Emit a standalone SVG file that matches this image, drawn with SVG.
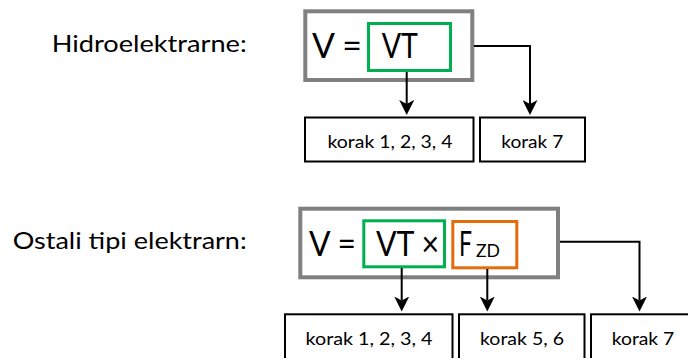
<svg xmlns="http://www.w3.org/2000/svg" width="688" height="358" viewBox="0 0 688 358">
<style>
  .lbl { font-family: Lato, "Open Sans", "Liberation Sans", sans-serif; font-size: 24px; fill: #000; }
  .eq { font-family: Lato, "Open Sans", "Liberation Sans", sans-serif; font-size: 34px; fill: #000; }
  .sub { font-family: Lato, "Open Sans", "Liberation Sans", sans-serif; font-size: 18px; fill: #000; }
  .bt { font-family: Lato, "Open Sans", "Liberation Sans", sans-serif; font-size: 18px; fill: #000; text-anchor: middle; }
  .outer { fill: #fff; stroke: #808080; stroke-width: 4; }
  .green { fill: none; stroke: #00B050; stroke-width: 3; }
  .orange { fill: none; stroke: #E46C0A; stroke-width: 3; }
  .box { fill: #fff; stroke: #000; stroke-width: 2; }
  .conn { fill: none; stroke: #000; stroke-width: 2; marker-end: url(#ah); }
</style>
<defs>
  <marker id="ah" viewBox="0 0 15 15" refX="4" refY="7.5" markerWidth="15" markerHeight="15" markerUnits="userSpaceOnUse" orient="auto">
    <path d="M0,0 L15,7.5 L0,15 L4,7.5 Z" fill="#000"/>
  </marker>
</defs>
<rect width="688" height="358" fill="#fff"/>

<g id="label-hidro">
  <text class="lbl" x="51.7" y="52.3" textLength="195" lengthAdjust="spacingAndGlyphs">Hidroelektrarne:</text>
</g>
<g id="label-ostali">
  <text class="lbl" x="12.7" y="249.3" textLength="234" lengthAdjust="spacingAndGlyphs">Ostali tipi elektrarn:</text>
</g>

<g id="formula-top">
  <rect class="outer" x="305.3" y="11.3" width="167" height="68.7"/>
  <rect class="green" x="368.5" y="23.5" width="82" height="47"/>
  <text class="eq" x="312" y="58" textLength="50" lengthAdjust="spacingAndGlyphs">V =</text>
  <text class="eq" x="381.7" y="58" textLength="36.3" lengthAdjust="spacingAndGlyphs">VT</text>
</g>

<g id="formula-bottom">
  <rect class="outer" x="300.3" y="208.7" width="257.7" height="68.6"/>
  <rect class="green" x="363.8" y="220.8" width="80.7" height="46"/>
  <rect class="orange" x="452.8" y="221.5" width="64" height="46.3"/>
  <text class="eq" x="309" y="256" textLength="47" lengthAdjust="spacingAndGlyphs">V =</text>
  <text class="eq" x="376" y="256" textLength="63" lengthAdjust="spacingAndGlyphs">VT ×</text>
  <text class="eq" x="459" y="256" textLength="13" lengthAdjust="spacingAndGlyphs">F</text>
  <text class="sub" x="476" y="257.3" textLength="24" lengthAdjust="spacingAndGlyphs">ZD</text>
</g>

<g id="top-korak-1-4">
  <rect class="box" x="305" y="117.5" width="168.5" height="44"/>
  <text class="bt" x="390" y="148" textLength="125" lengthAdjust="spacingAndGlyphs">korak 1, 2, 3, 4</text>
</g>
<g id="top-korak-7">
  <rect class="box" x="480" y="117.5" width="105" height="44"/>
  <text class="bt" x="532.3" y="148" textLength="62" lengthAdjust="spacingAndGlyphs">korak 7</text>
</g>

<g id="bot-korak-1-4">
  <rect class="box" x="285" y="314.3" width="167.5" height="46"/>
  <text class="bt" x="369" y="345" textLength="127" lengthAdjust="spacingAndGlyphs">korak 1, 2, 3, 4</text>
</g>
<g id="bot-korak-5-6">
  <rect class="box" x="459" y="314.3" width="125.5" height="46"/>
  <text class="bt" x="522" y="345" textLength="84" lengthAdjust="spacingAndGlyphs">korak 5, 6</text>
</g>
<g id="bot-korak-7">
  <rect class="box" x="591" y="314.3" width="106" height="46"/>
  <text class="bt" x="643" y="345" textLength="62.6" lengthAdjust="spacingAndGlyphs">korak 7</text>
</g>

<g id="connectors">
  <path class="conn" d="M406.7,72 V104"/>
  <path class="conn" d="M474,46 H530 V104"/>
  <path class="conn" d="M401.7,268 V300.5"/>
  <path class="conn" d="M487.3,269 V300.5"/>
  <path class="conn" d="M560,241.7 H639.5 V300.5"/>
</g>
</svg>
